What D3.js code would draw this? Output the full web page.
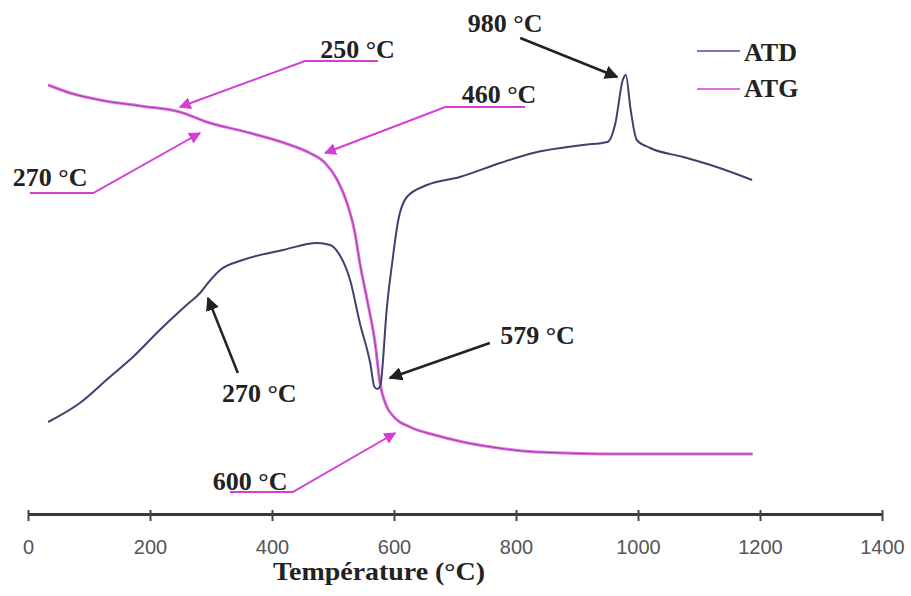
<!DOCTYPE html>
<html>
<head>
<meta charset="utf-8">
<script src="https://cdn.jsdelivr.net/npm/d3@7"></script>
<style>
  body { margin: 0; background: #fff; }
  .tick text { font-family: "Liberation Sans", Arial, sans-serif; }
  .lbl { font-family: "Liberation Serif", "Times New Roman", serif; font-weight: bold; }
</style>
</head>
<body>
<div id="chart"></div>
<script>
// temperatures (°C) and signal (arbitrary units, no y axis shown)
var atdTemp = [33, 85, 134, 172, 216, 260, 282, 295, 315, 352, 418, 474, 495, 511, 528, 544, 561, 568, 573, 578,
  582, 587, 597, 607, 621, 654, 708, 774, 828, 910, 950, 963, 975, 980, 988, 998, 1020, 1074, 1129, 1187];
var atdValue = [92, 111, 137, 157, 184, 209, 221, 231, 244, 254, 264, 271, 269, 259, 234, 191, 151, 127, 125, 129,
  154, 197, 251, 294, 317, 329, 337, 351, 361, 369, 372, 391, 434, 439, 404, 374, 366, 357, 347, 334];

var atgTemp = [33, 69, 118, 184, 249, 293, 364, 430, 462, 487, 507, 523, 536, 544, 557, 569, 577, 587, 600,
  626, 667, 713, 760, 811, 880, 959, 1188];
var atgValue = [429, 421, 414, 408, 402, 392, 381, 369, 361, 351, 334, 311, 281, 251, 211, 171, 131, 109, 97,
  87, 79, 72, 67, 63, 61, 60, 60];

var xTicks = [0, 200, 400, 600, 800, 1000, 1200, 1400];

// annotations: label, text anchor point, leader path (last point = arrow tip), colour
var notes = [
  {text: "250 °C", at: [479, 456], path: [[574, 453], [454, 453], [249, 407]], color: "#d63cd6"},
  {text: "270 °C", at: [-25, 328], path: [[3, 321], [107, 321], [282, 381]], color: "#d63cd6"},
  {text: "460 °C", at: [711, 411], path: [[815, 407], [684, 407], [487, 361]], color: "#d63cd6"},
  {text: "600 °C", at: [303, 24], path: [[331, 22], [434, 22], [602, 81]], color: "#d63cd6"},
  {text: "980 °C", at: [721, 482], path: [[807, 476], [966, 437]], color: "#222"},
  {text: "579 °C", at: [774, 170], path: [[757, 171], [593, 136]], color: "#222"},
  {text: "270 °C", at: [318, 112], path: [[344, 141], [295, 216]], color: "#222"}
];

var width = 911, height = 596;

var svg = d3.select("#chart").append("svg")
  .attr("width", width)
  .attr("height", height);

var x = d3.scaleLinear().domain([0, 1400]).range([28, 882]);
var y = d3.scaleLinear().domain([0, 500]).range([514, 14]);

var defs = svg.append("defs");
function marker(id, col, size) {
  defs.append("marker")
    .attr("id", id)
    .attr("viewBox", "0 0 10 10")
    .attr("refX", 9).attr("refY", 5)
    .attr("markerWidth", size).attr("markerHeight", size)
    .attr("markerUnits", "strokeWidth")
    .attr("orient", "auto")
    .append("path")
    .attr("d", "M0,0 L10,5 L0,10 Z")
    .attr("fill", col);
}
marker("arrMag", "#d63cd6", 6);
marker("arrBlk", "#222", 5.5);

// x axis
var axis = svg.append("g")
  .attr("transform", "translate(0," + y(0) + ")")
  .call(d3.axisBottom(x).tickValues(xTicks).tickFormat(d3.format("d"))
    .tickSizeInner(7).tickSizeOuter(0).tickPadding(19));
axis.select(".domain").attr("stroke", "#3a3a3a").attr("stroke-width", 3);
axis.selectAll(".tick line").attr("stroke", "#444").attr("stroke-width", 2).attr("y1", -4);
axis.selectAll(".tick text").attr("fill", "#555").style("font-size", "20px");

svg.append("text")
  .attr("class", "lbl")
  .attr("x", 273).attr("y", 580)
  .attr("fill", "#222")
  .attr("textLength", 212)
  .attr("lengthAdjust", "spacingAndGlyphs")
  .style("font-size", "26px")
  .text("Température (°C)");

var line = d3.line()
  .x(function(d) { return x(d[0]); })
  .y(function(d) { return y(d[1]); })
  .curve(d3.curveMonotoneX);

var atd = d3.zip(atdTemp, atdValue);
var atg = d3.zip(atgTemp, atgValue);

svg.append("path")
  .datum(atg)
  .attr("fill", "none")
  .attr("stroke", "#e070e0")
  .attr("stroke-width", 3)
  .attr("d", line);
svg.append("path")
  .datum(atg)
  .attr("fill", "none")
  .attr("stroke", "#a040a8")
  .attr("stroke-width", 1)
  .attr("d", line);

svg.append("path")
  .datum(atd)
  .attr("fill", "none")
  .attr("stroke", "#40406e")
  .attr("stroke-width", 2)
  .attr("d", line);

// annotations
var lead = d3.line()
  .x(function(d) { return x(d[0]); })
  .y(function(d) { return y(d[1]); });

notes.forEach(function(n) {
  var blk = n.color === "#222";
  svg.append("path")
    .attr("d", lead(n.path))
    .attr("fill", "none")
    .attr("stroke", n.color)
    .attr("stroke-width", blk ? 2.5 : 2)
    .attr("marker-end", blk ? "url(#arrBlk)" : "url(#arrMag)");
  svg.append("text")
    .attr("class", "lbl")
    .attr("x", x(n.at[0])).attr("y", y(n.at[1]))
    .attr("fill", "#222")
    .style("font-size", "26px")
    .text(n.text);
});

// legend
var legend = [
  {name: "ATD", color: "#7878c0", y: 51, ty: 61},
  {name: "ATG", color: "#e070e0", y: 89, ty: 97}
];
var lg = svg.append("g");
legend.forEach(function(l) {
  lg.append("line")
    .attr("x1", 697).attr("x2", 740)
    .attr("y1", l.y).attr("y2", l.y)
    .attr("stroke", l.color).attr("stroke-width", 2);
  lg.append("text")
    .attr("class", "lbl")
    .attr("x", 744).attr("y", l.ty)
    .attr("fill", "#222")
    .style("font-size", "26px")
    .text(l.name);
});
</script>
</body>
</html>
